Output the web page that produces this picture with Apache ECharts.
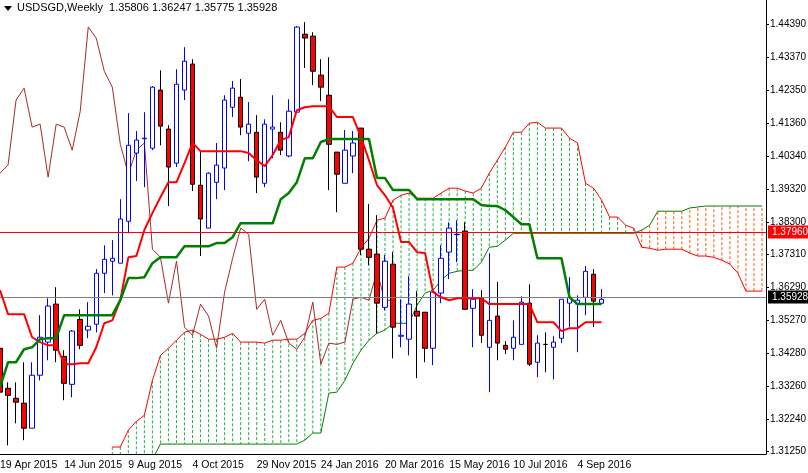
<!DOCTYPE html>
<html>
<head>
<meta charset="utf-8">
<script src="https://cdn.jsdelivr.net/npm/echarts@6/dist/echarts.min.js"></script>
<style>
html, body { margin: 0; padding: 0; background: #fff; }
#chart { width: 808px; height: 473px; }
</style>
</head>
<body>
<div id="chart"></div>
<script>
var myChart = echarts.init(document.getElementById('chart'));

// weekly labels every 8 bars, starting 19 Apr 2015
var dateLabels = ['19 Apr 2015', '14 Jun 2015', '9 Aug 2015', '4 Oct 2015', '29 Nov 2015',
    '24 Jan 2016', '20 Mar 2016', '15 May 2016', '10 Jul 2016', '4 Sep 2016'];
var barCount = 96; // 76 candles + 20 bars of future cloud

var priceTicks = [1.31250, 1.32240, 1.33260, 1.34280, 1.35270, 1.36290, 1.37310,
    1.38300, 1.39320, 1.40340, 1.41360, 1.42350, 1.43370, 1.44390];

// [open, close, low, high]
var candles = [
    [1.3442, 1.3307, 1.3288, 1.3538], [1.3319, 1.3297, 1.3143, 1.3337], [1.3288, 1.3276, 1.3211, 1.3337],
    [1.3273, 1.3196, 1.3159, 1.3399], [1.3196, 1.3359, 1.3196, 1.3399], [1.3359, 1.3476, 1.3343, 1.3544],
    [1.3461, 1.3572, 1.3405, 1.3596], [1.3578, 1.3436, 1.3399, 1.3630], [1.3417, 1.3334, 1.3282, 1.3436],
    [1.3331, 1.3495, 1.3291, 1.3498], [1.3531, 1.3451, 1.3439, 1.3562], [1.3498, 1.3510, 1.3473, 1.3584],
    [1.3516, 1.3673, 1.3491, 1.3686], [1.3673, 1.3716, 1.3612, 1.3759], [1.3710, 1.3719, 1.3605, 1.3775],
    [1.3704, 1.3840, 1.3704, 1.3901], [1.3833, 1.4067, 1.3796, 1.4166], [1.4043, 1.4083, 1.3957, 1.4111],
    [1.4087, 1.4089, 1.3938, 1.4169], [1.4058, 1.4246, 1.4052, 1.4249], [1.4237, 1.4126, 1.4067, 1.4298],
    [1.4117, 1.4000, 1.3880, 1.4129], [1.4012, 1.4255, 1.4000, 1.4301], [1.4237, 1.4326, 1.4206, 1.4369],
    [1.4317, 1.3947, 1.3926, 1.4332], [1.3944, 1.3840, 1.3726, 1.4046], [1.3812, 1.3981, 1.3812, 1.3984],
    [1.3953, 1.4006, 1.3901, 1.4074], [1.3997, 1.4206, 1.3929, 1.4221], [1.4184, 1.4243, 1.4154, 1.4265],
    [1.4215, 1.4123, 1.4098, 1.4271], [1.4104, 1.4132, 1.4018, 1.4200], [1.4107, 1.3969, 1.3920, 1.4160],
    [1.3950, 1.4132, 1.3938, 1.4147], [1.4117, 1.4123, 1.4027, 1.4221], [1.4107, 1.4052, 1.4037, 1.4138],
    [1.4034, 1.4172, 1.4030, 1.4209], [1.4169, 1.4431, 1.4169, 1.4434], [1.4409, 1.4397, 1.4305, 1.4446],
    [1.4403, 1.4295, 1.4252, 1.4415], [1.4283, 1.4246, 1.4203, 1.4332], [1.4221, 1.4070, 1.3929, 1.4338],
    [1.4046, 1.3978, 1.3861, 1.4046], [1.3950, 1.4052, 1.3950, 1.4114], [1.4034, 1.4074, 1.3981, 1.4111],
    [1.4120, 1.3747, 1.3729, 1.4120], [1.3747, 1.3722, 1.3698, 1.3886], [1.3732, 1.3581, 1.3488, 1.3852],
    [1.3568, 1.3710, 1.3559, 1.3729], [1.3701, 1.3507, 1.3411, 1.3738], [1.3479, 1.3482, 1.3445, 1.3593],
    [1.3470, 1.3578, 1.3420, 1.3664], [1.3556, 1.3541, 1.3350, 1.3618], [1.3553, 1.3442, 1.3399, 1.3553],
    [1.3442, 1.3615, 1.3390, 1.3621], [1.3612, 1.3719, 1.3581, 1.3759], [1.3738, 1.3812, 1.3655, 1.3830],
    [1.3792, 1.3793, 1.3707, 1.3836], [1.3803, 1.3562, 1.3562, 1.3830], [1.3565, 1.3593, 1.3445, 1.3624],
    [1.3596, 1.3482, 1.3458, 1.3621], [1.3445, 1.3528, 1.3307, 1.3735], [1.3541, 1.3458, 1.3405, 1.3646],
    [1.3451, 1.3439, 1.3424, 1.3464], [1.3442, 1.3476, 1.3405, 1.3528], [1.3454, 1.3584, 1.3454, 1.3602],
    [1.3581, 1.3393, 1.3387, 1.3639], [1.3399, 1.3458, 1.3353, 1.3482], [1.3454, 1.3454, 1.3368, 1.3491],
    [1.3445, 1.3461, 1.3346, 1.3479], [1.3473, 1.3593, 1.3458, 1.3593], [1.3581, 1.3599, 1.3507, 1.3661],
    [1.3578, 1.3590, 1.3430, 1.3605], [1.3599, 1.3679, 1.3544, 1.3695], [1.3670, 1.3587, 1.3507, 1.3686],
    [1.35806, 1.35928, 1.35775, 1.36247]
];

var tenkan = [1.3621, 1.3547, 1.3547, 1.3547, 1.3476, 1.3461, 1.3451, 1.3451, 1.3393, 1.3393,
    1.3396, 1.3396, 1.3445, 1.3519, 1.3528, 1.3590, 1.3722, 1.3726, 1.3806, 1.3858,
    1.3907, 1.3953, 1.3953, 1.4012, 1.4074, 1.4049, 1.4049, 1.4049, 1.4049, 1.4049,
    1.4049, 1.4043, 1.4021, 1.4003, 1.4037, 1.4083, 1.4092, 1.4175, 1.4184, 1.4187,
    1.4187, 1.4187, 1.4154, 1.4154, 1.4154, 1.4092, 1.4021, 1.3944, 1.3913, 1.3874,
    1.3769, 1.3769, 1.3738, 1.3735, 1.3615, 1.3599, 1.3590, 1.3596, 1.3596, 1.3596,
    1.3596, 1.3578, 1.3578, 1.3578, 1.3578, 1.3578, 1.3578, 1.3522, 1.3522, 1.3522,
    1.3495, 1.3504, 1.3504, 1.3522, 1.3522, 1.3522];

var kijun = [1.3322, 1.3399, 1.3399, 1.3439, 1.3445, 1.3470, 1.3473, 1.3473, 1.3544, 1.3544,
    1.3544, 1.3544, 1.3544, 1.3544, 1.3544, 1.3590, 1.3658, 1.3658, 1.3661, 1.3704,
    1.3722, 1.3722, 1.3722, 1.3756, 1.3756, 1.3756, 1.3756, 1.3766, 1.3766, 1.3784,
    1.3827, 1.3827, 1.3827, 1.3827, 1.3827, 1.3901, 1.3920, 1.3953, 1.4027, 1.4027,
    1.4077, 1.4086, 1.4086, 1.4086, 1.4086, 1.4086, 1.4086, 1.3966, 1.3966, 1.3929,
    1.3929, 1.3929, 1.3901, 1.3901, 1.3901, 1.3901, 1.3901, 1.3901, 1.3901, 1.3901,
    1.3883, 1.3880, 1.3880, 1.3867, 1.3846, 1.3824, 1.3824, 1.3719, 1.3719, 1.3719,
    1.3719, 1.3599, 1.3578, 1.3578, 1.3578, 1.3578];

// Senkou span A / B from bar 14 to bar 95
var spanA = [1.3138, 1.3138, 1.3190, 1.3217, 1.3236, 1.3343, 1.3420, 1.3442, 1.3467, 1.3491,
    1.3498, 1.3485, 1.3470, 1.3470, 1.3476, 1.3488, 1.3461, 1.3461, 1.3461, 1.3458,
    1.3467, 1.3467, 1.3470, 1.3470, 1.3488, 1.3528, 1.3534, 1.3550, 1.3692, 1.3692,
    1.3704, 1.3750, 1.3781, 1.3836, 1.3843, 1.3898, 1.3913, 1.3920, 1.3904, 1.3904,
    1.3904, 1.3920, 1.3935, 1.3935, 1.3926, 1.3920, 1.3935, 1.3981, 1.4021, 1.4061,
    1.4107, 1.4107, 1.4135, 1.4138, 1.4120, 1.4120, 1.4120, 1.4089, 1.4074, 1.3950,
    1.3935, 1.3898, 1.3846, 1.3846, 1.3821, 1.3812, 1.3753, 1.3750, 1.3744, 1.3747,
    1.3747, 1.3747, 1.3735, 1.3726, 1.3726, 1.3722, 1.3713, 1.3701, 1.3673, 1.3618,
    1.3618, 1.3618];
var spanB = [1.3100, 1.3100, 1.3100, 1.3100, 1.3100, 1.3100, 1.3147, 1.3147, 1.3147, 1.3147,
    1.3147, 1.3147, 1.3147, 1.3147, 1.3147, 1.3147, 1.3147, 1.3147, 1.3147, 1.3147,
    1.3147, 1.3147, 1.3147, 1.3147, 1.3159, 1.3181, 1.3181, 1.3304, 1.3307, 1.3343,
    1.3396, 1.3436, 1.3467, 1.3488, 1.3498, 1.3519, 1.3519, 1.3519, 1.3575, 1.3612,
    1.3621, 1.3652, 1.3673, 1.3679, 1.3682, 1.3682, 1.3707, 1.3753, 1.3756, 1.3775,
    1.3796, 1.3796, 1.3796, 1.3796, 1.3796, 1.3796, 1.3796, 1.3796, 1.3796, 1.3796,
    1.3796, 1.3796, 1.3796, 1.3796, 1.3796, 1.3796, 1.3806, 1.3821, 1.3864, 1.3864,
    1.3864, 1.3864, 1.3874, 1.3877, 1.3880, 1.3880, 1.3880, 1.3880, 1.3880, 1.3880,
    1.3880, 1.3880];
var cloudStart = 14;

var levelRed = 1.37960;
var levelLast = 1.35928;
var titleText = 'USDSGD,Weekly  1.35806 1.36247 1.35775 1.35928';

var categories = [];
for (var i = 0; i < barCount; i++) {
    categories.push(i % 8 === 0 && dateLabels[i / 8] ? dateLabels[i / 8] : '');
}
// chikou: close plotted 26 bars back
var closes = candles.map(function (c) { return c[1]; });
var chikou = closes.slice(26);
function pad(arr, start) {
    var out = [];
    for (var i = 0; i < start; i++) out.push(null);
    return out.concat(arr);
}
var spanAFull = pad(spanA, cloudStart);
var spanBFull = pad(spanB, cloudStart);
var cloudData = [];
for (var k = 0; k < spanA.length; k++) {
    cloudData.push([k + cloudStart, spanA[k], spanB[k]]);
}

var font = '"Liberation Sans", Arial, sans-serif';

var option = {
    backgroundColor: '#fff',
    animation: false,
    grid: { left: -4, right: 42, top: 0, bottom: 19, outerBoundsMode: 'none', containLabel: false },
    graphic: [
        { type: 'polygon', shape: { points: [[4, 6], [12, 6], [8, 11]] }, style: { fill: '#000' } },
        { type: 'text', left: 17, top: 2, style: { text: titleText, fill: '#000', font: '11px ' + font } }
    ],
    xAxis: {
        type: 'category',
        data: categories,
        boundaryGap: true,
        axisLine: { lineStyle: { color: '#000' } },
        axisTick: {
            alignWithLabel: true, length: 4, lineStyle: { color: '#000' },
            interval: function (idx) { return idx % 8 === 0; }
        },
        axisLabel: {
            interval: 0, align: 'left', margin: 6, color: '#000',
            fontSize: 10.5, fontFamily: font, hideOverlap: false
        },
        splitLine: { show: false }
    },
    yAxis: {
        type: 'value',
        position: 'right',
        min: 1.31165,
        max: 1.45143,
        scale: true,
        axisLine: { show: true, lineStyle: { color: '#000' } },
        axisTick: { show: true, length: 3, customValues: priceTicks, lineStyle: { color: '#000' } },
        axisLabel: {
            customValues: priceTicks, color: '#000', fontSize: 10, fontFamily: font, margin: 4,
            formatter: function (v) { return v.toFixed(5); }
        },
        splitLine: { show: false }
    },
    series: [
        {
            type: 'custom',
            clip: true,
            data: cloudData,
            renderItem: function (params, api) {
                var a = api.coord([api.value(0), api.value(1)]);
                var b = api.coord([api.value(0), api.value(2)]);
                var green = api.value(1) >= api.value(2);
                return {
                    type: 'line',
                    shape: { x1: a[0], y1: a[1], x2: b[0], y2: b[1] },
                    style: { stroke: green ? '#22b04a' : '#ff5a00', lineWidth: 1, lineDash: [3, 2] }
                };
            },
            z: 1
        },
        { type: 'line', data: spanAFull, symbol: 'none', lineStyle: { color: '#ff0000', width: 1 }, z: 2 },
        { type: 'line', data: spanBFull, symbol: 'none', lineStyle: { color: '#008000', width: 1 }, z: 2 },
        { type: 'line', data: chikou, symbol: 'none', lineStyle: { color: '#a52a2a', width: 1 }, z: 3 },
        {
            type: 'candlestick',
            data: candles,
            barWidth: 5,
            itemStyle: {
                color: '#ffffff', color0: '#ff0000',
                borderColor: '#0000ff', borderColor0: '#000000', borderWidth: 1
            },
            markLine: {
                symbol: 'none',
                silent: true,
                data: [
                    {
                        yAxis: levelRed,
                        lineStyle: { color: '#ff0000', width: 1, type: 'solid' },
                        label: {
                            position: 'end', formatter: levelRed.toFixed(5), color: '#fff',
                            backgroundColor: '#ff0000', padding: [2, 3, 1, 4], fontSize: 10, fontFamily: font,
                            distance: 2
                        }
                    },
                    {
                        yAxis: levelLast,
                        lineStyle: { color: '#808080', width: 1, type: 'solid' },
                        label: {
                            position: 'end', formatter: levelLast.toFixed(5), color: '#fff',
                            backgroundColor: '#000000', padding: [2, 3, 1, 4], fontSize: 10, fontFamily: font,
                            distance: 2
                        }
                    }
                ]
            },
            z: 4
        },
        { type: 'line', data: tenkan, symbol: 'none', lineStyle: { color: '#ff0000', width: 2 }, z: 5 },
        { type: 'line', data: kijun, symbol: 'none', lineStyle: { color: '#008000', width: 2.5 }, z: 5 }
    ]
};
myChart.setOption(option);
</script>
</body>
</html>
